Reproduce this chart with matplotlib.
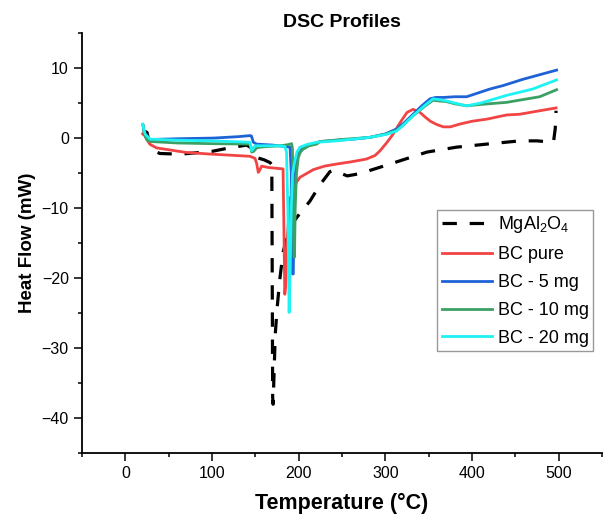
import matplotlib
matplotlib.use('Agg')
import matplotlib.pyplot as plt
from matplotlib.ticker import MultipleLocator

plt.rcParams['font.family'] = ['Liberation Sans', 'DejaVu Sans']
plt.rcParams['mathtext.default'] = 'regular'

# MgAl2O4 (black dashed)
t_mg = [22, 25, 28, 32, 40, 63, 100, 120, 140, 148, 152, 160, 167, 169, 169.5, 170, 170.5,
        171.5, 173, 175, 178, 182, 188, 194, 198, 213, 225, 236, 240, 248, 256, 265, 275,
        298, 328, 348, 382, 417, 455, 475, 494, 496, 497]
hf_mg = [1.0, 0.8, -0.8, -1.8, -2.2, -2.3, -1.9, -1.4, -1.0, -1.6, -2.8, -3.1, -3.5, -3.8,
         -20, -37, -38, -34, -28, -24.5, -20.4, -16.3, -13.5, -12, -11.3, -9, -6.6, -4.8,
         -4.6, -5.0, -5.4, -5.2, -4.9, -4.0, -2.8, -2.0, -1.3, -0.86, -0.4, -0.4, -0.6, 1.3, 3.9]

# BC pure (red)
t_pure = [20, 21, 22.7, 28.5, 36, 70, 100, 143.8, 149.6, 151.5, 153.4, 155, 157.3, 165, 182,
          183, 184, 185, 187, 190, 195.7, 201.5, 210, 217, 230, 244, 260, 278, 288, 294, 302,
          309, 317, 325, 332, 340, 346, 352, 360, 367, 375, 386, 400, 417, 440, 455, 478, 497]
hf_pure = [0.6, 0.7, 0.3, -0.9, -1.4, -2.05, -2.3, -2.6, -2.9, -3.6, -4.9, -4.6, -4.0, -4.2,
           -4.4, -13, -22.3, -21, -14, -8.7, -6.6, -5.6, -5.0, -4.5, -4.0, -3.7, -3.4, -3.0,
           -2.5, -1.8, -0.6, 0.57, 2.2, 3.66, 4.1, 3.66, 3.0, 2.4, 1.9, 1.6, 1.6, 2.0, 2.4,
           2.7, 3.3, 3.4, 3.9, 4.3]

# BC - 5 mg (blue)
t_5 = [20.5, 22, 25, 30, 60, 101.5, 130, 143.8, 145.5, 147.7, 151.5, 170, 190, 191.5, 192.5,
       193, 193.8, 194.5, 195.5, 197.7, 200, 203.5, 210, 216.8, 224.6, 245, 263, 282, 300,
       313, 322, 332, 342, 351.5, 358, 366.8, 380, 393.8, 420.6, 436, 459, 497.6]
hf_5 = [1.8, 0.5, -0.15, -0.2, -0.1, 0.0, 0.2, 0.35, 0.3, -0.6, -0.86, -1.0, -1.3, -5, -15,
        -19.4, -19.4, -12, -6, -3.2, -2.2, -1.6, -1.1, -0.86, -0.5, -0.3, -0.15, 0.1, 0.6,
        1.3, 2.2, 3.4, 4.6, 5.6, 5.8, 5.8, 5.9, 5.9, 7.0, 7.5, 8.4, 9.7]

# BC - 10 mg (green)
t_10 = [20.5, 22, 25, 30, 60, 100, 140, 144, 145.8, 148, 151.5, 155.4, 165, 178.4, 185, 189,
        191.9, 192.8, 193.8, 194.5, 195.2, 196, 197.5, 199.5, 202, 205, 212, 220.8, 224.6,
        250, 282, 300, 313, 322, 332, 345, 355, 362, 370.7, 380, 393.8, 410, 440, 478, 497.6]
hf_10 = [1.8, 0.6, -0.3, -0.5, -0.7, -0.8, -0.85, -0.9, -2.0, -1.9, -1.4, -1.3, -1.2, -1.1,
         -1.0, -0.9, -0.8, -1.5, -8, -17, -17, -10, -5, -2.8, -2.0, -1.6, -1.1, -0.86, -0.5,
         -0.2, 0.1, 0.55, 1.1, 2.0, 3.2, 4.5, 5.4, 5.3, 5.2, 4.9, 4.6, 4.8, 5.1, 5.9, 6.9]

# BC - 20 mg (cyan)
t_20 = [20, 21.5, 23, 28.5, 60, 100, 143.8, 145.8, 147, 149.6, 178.4, 184, 186, 187.5, 188.5,
        189, 190, 191.5, 193, 195.7, 198, 201.5, 210, 220.8, 244, 282, 300, 313, 322, 332,
        345, 355, 362, 370.7, 380, 393.8, 410, 440, 470, 497.6]
hf_20 = [2.0, 1.2, 0.57, -0.15, -0.3, -0.4, -0.6, -1.8, -1.6, -1.1, -1.1, -1.2, -2.0, -10,
         -20, -24.9, -20, -10, -5, -3.2, -2.0, -1.3, -0.9, -0.6, -0.4, 0.1, 0.5, 1.0, 2.0,
         3.2, 4.6, 5.6, 5.5, 5.3, 5.0, 4.6, 5.0, 6.1, 7.0, 8.3]

fig = plt.figure(figsize=(6.06, 5.19), dpi=100)
ax = fig.add_axes([82/606, 1-453.3/519, 520/606, 420.3/519])

ax.plot(t_mg, hf_mg, color='black', lw=2.3, linestyle=(0, (4.5, 4)), label='MgAl$_2$O$_4$')
ax.plot(t_pure, hf_pure, color='#F24444', lw=2, label='BC pure')
ax.plot(t_5, hf_5, color='#1E62D6', lw=2, label='BC - 5 mg')
ax.plot(t_10, hf_10, color='#3AA064', lw=2, label='BC - 10 mg')
ax.plot(t_20, hf_20, color='#1EF2F2', lw=2, label='BC - 20 mg')

ax.set_xlim(-50, 550)
ax.set_ylim(-45, 15)
ax.xaxis.set_major_locator(MultipleLocator(100))
ax.xaxis.set_minor_locator(MultipleLocator(50))
ax.yaxis.set_major_locator(MultipleLocator(10))
ax.yaxis.set_minor_locator(MultipleLocator(5))
ax.tick_params(which='major', direction='out', length=6, width=1.1, labelsize=11.5)
ax.tick_params(which='minor', direction='out', length=2.8, width=1.1)

ax.spines['top'].set_visible(False)
ax.spines['right'].set_visible(False)
ax.spines['left'].set_linewidth(1.3)
ax.spines['bottom'].set_linewidth(1.3)

ax.set_title('DSC Profiles', fontsize=14, fontweight='bold', pad=4)
ax.set_xlabel('Temperature (°C)', fontsize=15.5, fontweight='bold', labelpad=8)
ax.set_ylabel('Heat Flow (mW)', fontsize=13.5, fontweight='bold', labelpad=4)

ax.legend(loc='upper left', bbox_to_anchor=(0.683, 0.579), fontsize=13, frameon=True,
          fancybox=False, edgecolor='#999999', framealpha=1, handlelength=2.8,
          handletextpad=0.3, borderpad=0.25, borderaxespad=0, labelspacing=0.6)

fig.savefig('out.png', dpi=100)
